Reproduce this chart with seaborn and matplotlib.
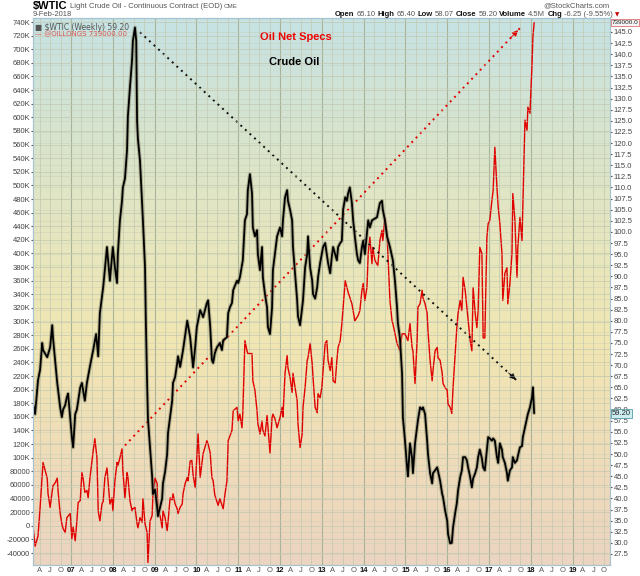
import numpy as np
import pandas as pd
import seaborn as sns
import matplotlib.pyplot as plt
from matplotlib.colors import LinearSegmentedColormap
from matplotlib.transforms import blended_transform_factory

# @OILLONGS - net speculative longs, thousands of contracts (left scale)
longs_t = [2006.09, 2006.14, 2006.21, 2006.26, 2006.33, 2006.43, 2006.45, 2006.50, 2006.55, 2006.57,
           2006.62, 2006.67, 2006.69, 2006.74, 2006.78, 2006.81, 2006.86, 2006.90, 2006.98, 2007.02,
           2007.05, 2007.10, 2007.14, 2007.17, 2007.22, 2007.26, 2007.29, 2007.33, 2007.38, 2007.41,
           2007.45, 2007.53, 2007.57, 2007.62, 2007.65, 2007.69, 2007.74, 2007.77, 2007.81, 2007.86,
           2007.89, 2007.93, 2007.98, 2008.00, 2008.05, 2008.10, 2008.12, 2008.17, 2008.22, 2008.24,
           2008.29, 2008.34, 2008.36, 2008.41, 2008.46, 2008.48, 2008.53, 2008.58, 2008.60, 2008.65,
           2008.70, 2008.72, 2008.77, 2008.82, 2008.84, 2008.89, 2008.94, 2008.96, 2009.01, 2009.06,
           2009.08, 2009.13, 2009.18, 2009.20, 2009.25, 2009.30, 2009.32, 2009.37, 2009.42, 2009.44,
           2009.49, 2009.54, 2009.56, 2009.61, 2009.66, 2009.68, 2009.73, 2009.78, 2009.80, 2009.85,
           2009.89, 2009.92, 2009.97, 2010.01, 2010.04, 2010.09, 2010.16, 2010.25, 2010.28, 2010.33,
           2010.37, 2010.40, 2010.44, 2010.52, 2010.56, 2010.64, 2010.68, 2010.73, 2010.76, 2010.85,
           2010.88, 2010.97, 2011.00, 2011.04, 2011.09, 2011.11, 2011.16, 2011.21, 2011.23, 2011.33,
           2011.35, 2011.40, 2011.45, 2011.47, 2011.52, 2011.57, 2011.59, 2011.64, 2011.69, 2011.76,
           2011.81, 2011.83, 2011.88, 2011.93, 2012.00, 2012.05, 2012.07, 2012.12, 2012.17, 2012.19,
           2012.24, 2012.29, 2012.31, 2012.36, 2012.41, 2012.43, 2012.48, 2012.53, 2012.55, 2012.60,
           2012.65, 2012.67, 2012.72, 2012.77, 2012.79, 2012.84, 2012.89, 2012.91, 2012.96, 2013.00,
           2013.08, 2013.12, 2013.15, 2013.20, 2013.24, 2013.27, 2013.32, 2013.36, 2013.39, 2013.44,
           2013.48, 2013.51, 2013.56, 2013.60, 2013.63, 2013.72, 2013.75, 2013.79, 2013.87, 2013.91,
           2013.96, 2013.99, 2014.03, 2014.08, 2014.11, 2014.15, 2014.20, 2014.22, 2014.27, 2014.34,
           2014.39, 2014.44, 2014.46, 2014.51, 2014.56, 2014.58, 2014.63, 2014.68, 2014.70, 2014.80,
           2014.87, 2014.92, 2014.99, 2015.06, 2015.11, 2015.16, 2015.18, 2015.23, 2015.28, 2015.30,
           2015.35, 2015.40, 2015.42, 2015.47, 2015.52, 2015.54, 2015.59, 2015.64, 2015.66, 2015.71,
           2015.76, 2015.78, 2015.83, 2015.88, 2015.90, 2015.95, 2016.00, 2016.02, 2016.07, 2016.11,
           2016.14, 2016.19, 2016.23, 2016.26, 2016.31, 2016.35, 2016.38, 2016.43, 2016.47, 2016.50,
           2016.55, 2016.59, 2016.62, 2016.67, 2016.71, 2016.74, 2016.78, 2016.83, 2016.86, 2016.90,
           2016.95, 2016.98, 2017.02, 2017.07, 2017.10, 2017.14, 2017.19, 2017.22, 2017.26, 2017.31,
           2017.33, 2017.38, 2017.43, 2017.45, 2017.50, 2017.55, 2017.57, 2017.62, 2017.67, 2017.69,
           2017.74, 2017.79, 2017.81, 2017.86, 2017.91, 2017.93, 2017.98, 2018.03, 2018.05, 2018.08]
longs_k = [0, -30, -15, 27, 93, 70, 47, 27, 51, 59,
           63, 70, 51, 18, 3, -4, -10, 12, 18, -19,
           -2, -22, 7, 34, 37, 78, 69, 49, 52, 41,
           69, 110, 128, 100, 22, 7, 32, 36, 71, 85,
           62, 32, 41, 22, 66, 93, 88, 100, 113, 81,
           41, 78, 72, 37, 22, 25, 27, 3, -3, 12,
           5, 40, 3, -10, -54, 7, 15, 47, 70, 62,
           18, 15, -3, 22, 12, -7, 5, 41, 38, 47,
           32, 25, 18, 27, 32, 47, 62, 71, 66, 95,
           96, 75, 56, 100, 135, 71, 106, 125, 120, 107,
           71, 66, 45, 30, 40, 25, 45, 66, 125, 140,
           169, 174, 154, 164, 144, 166, 272, 257, 253, 253,
           213, 199, 169, 150, 135, 154, 140, 132, 162, 107,
           159, 164, 157, 144, 159, 174, 160, 224, 250, 232,
           218, 196, 224, 203, 184, 150, 115, 135, 174, 203,
           243, 247, 268, 238, 218, 174, 166, 194, 188, 203,
           268, 272, 243, 228, 247, 213, 210, 243, 262, 272,
           297, 321, 360, 350, 343, 326, 316, 301, 309, 316,
           346, 356, 331, 350, 400, 424, 385, 409, 390, 382,
           419, 434, 419, 453, 429, 400, 331, 301, 297, 268,
           257, 282, 282, 272, 297, 262, 257, 209, 272, 321,
           326, 346, 335, 326, 312, 287, 243, 213, 228, 257,
           262, 247, 243, 224, 209, 203, 199, 179, 174, 165,
           203, 253, 291, 312, 331, 316, 365, 346, 321, 301,
           272, 257, 350, 312, 291, 316, 409, 400, 276, 276,
           424, 444, 449, 478, 493, 556, 497, 468, 444, 400,
           331, 371, 379, 326, 356, 400, 488, 449, 365, 409,
           453, 419, 468, 596, 581, 615, 606, 679, 718, 739]

# $WTIC weekly close (right scale)
wtic_t = [2006.09, 2006.14, 2006.19, 2006.21, 2006.26, 2006.31, 2006.33, 2006.43, 2006.50, 2006.55,
          2006.57, 2006.62, 2006.67, 2006.74, 2006.78, 2006.81, 2006.86, 2006.90, 2006.93, 2006.98,
          2007.02, 2007.05, 2007.10, 2007.14, 2007.22, 2007.26, 2007.33, 2007.38, 2007.45, 2007.53,
          2007.60, 2007.65, 2007.69, 2007.77, 2007.86, 2007.93, 2008.00, 2008.05, 2008.10, 2008.12,
          2008.17, 2008.22, 2008.24, 2008.29, 2008.34, 2008.36, 2008.41, 2008.46, 2008.48, 2008.53,
          2008.56, 2008.58, 2008.60, 2008.65, 2008.70, 2008.72, 2008.77, 2008.79, 2008.82, 2008.84,
          2008.89, 2008.94, 2008.96, 2009.01, 2009.06, 2009.08, 2009.13, 2009.18, 2009.20, 2009.25,
          2009.30, 2009.32, 2009.37, 2009.42, 2009.44, 2009.49, 2009.54, 2009.56, 2009.61, 2009.68,
          2009.78, 2009.85, 2009.92, 2009.97, 2010.01, 2010.09, 2010.16, 2010.25, 2010.28, 2010.33,
          2010.37, 2010.40, 2010.44, 2010.49, 2010.56, 2010.61, 2010.64, 2010.73, 2010.76, 2010.80,
          2010.85, 2010.88, 2010.97, 2011.00, 2011.04, 2011.11, 2011.16, 2011.21, 2011.23, 2011.28,
          2011.33, 2011.35, 2011.40, 2011.45, 2011.47, 2011.52, 2011.57, 2011.59, 2011.64, 2011.69,
          2011.71, 2011.76, 2011.81, 2011.83, 2011.93, 2012.00, 2012.05, 2012.07, 2012.12, 2012.17,
          2012.19, 2012.24, 2012.29, 2012.31, 2012.36, 2012.41, 2012.43, 2012.48, 2012.55, 2012.60,
          2012.65, 2012.67, 2012.72, 2012.77, 2012.79, 2012.84, 2012.89, 2012.91, 2012.96, 2013.00,
          2013.03, 2013.08, 2013.12, 2013.15, 2013.20, 2013.24, 2013.27, 2013.36, 2013.39, 2013.44,
          2013.48, 2013.51, 2013.56, 2013.60, 2013.63, 2013.67, 2013.72, 2013.75, 2013.79, 2013.84,
          2013.87, 2013.91, 2013.96, 2013.99, 2014.03, 2014.08, 2014.11, 2014.15, 2014.20, 2014.32,
          2014.39, 2014.44, 2014.46, 2014.51, 2014.56, 2014.63, 2014.70, 2014.75, 2014.80, 2014.82,
          2014.87, 2014.92, 2014.94, 2014.99, 2015.04, 2015.06, 2015.11, 2015.16, 2015.18, 2015.23,
          2015.28, 2015.30, 2015.35, 2015.40, 2015.42, 2015.47, 2015.52, 2015.54, 2015.59, 2015.64,
          2015.66, 2015.71, 2015.76, 2015.83, 2015.88, 2015.90, 2015.95, 2016.00, 2016.02, 2016.07,
          2016.11, 2016.14, 2016.19, 2016.23, 2016.26, 2016.31, 2016.35, 2016.38, 2016.43, 2016.47,
          2016.50, 2016.55, 2016.59, 2016.62, 2016.67, 2016.71, 2016.74, 2016.78, 2016.83, 2016.86,
          2016.90, 2016.95, 2016.98, 2017.02, 2017.07, 2017.10, 2017.14, 2017.19, 2017.22, 2017.26,
          2017.31, 2017.33, 2017.38, 2017.43, 2017.45, 2017.50, 2017.55, 2017.57, 2017.62, 2017.67,
          2017.69, 2017.74, 2017.79, 2017.81, 2017.86, 2017.91, 2017.93, 2017.98, 2018.03, 2018.05,
          2018.08]
wtic_close = [61.4, 59.0, 64.4, 66.6, 69.0, 75.0, 73.4, 71.8, 74.0, 79.0,
              76.0, 71.0, 66.0, 60.5, 58.3, 60.0, 61.0, 62.8, 63.6, 58.3,
              53.8, 51.5, 59.0, 60.0, 65.0, 66.0, 62.0, 66.0, 69.6, 73.4,
              77.0, 72.0, 81.7, 87.6, 96.6, 89.0, 96.6, 92.0, 88.5, 95.0,
              102.6, 107.0, 110.0, 112.0, 118.4, 126.0, 132.6, 138.7, 143.0, 146.0,
              143.0, 125.0, 121.0, 116.0, 106.5, 102.6, 92.0, 80.0, 66.0, 58.0,
              51.5, 45.0, 41.0, 42.0, 38.0, 36.0, 38.0, 40.0, 43.4, 46.0,
              50.0, 54.7, 58.3, 62.0, 66.0, 67.3, 70.5, 72.0, 69.6, 73.4,
              80.0, 76.3, 69.5, 74.0, 78.6, 82.4, 80.8, 84.0, 84.6, 78.6,
              71.2, 70.5, 72.7, 74.0, 75.0, 73.4, 75.6, 76.3, 81.7, 83.0,
              84.0, 86.9, 89.0, 88.5, 89.8, 93.6, 102.6, 104.0, 109.4, 113.0,
              108.7, 101.0, 99.0, 100.4, 95.0, 91.4, 96.6, 89.8, 86.0, 83.0,
              78.6, 77.0, 83.0, 91.4, 99.0, 101.0, 99.0, 102.6, 107.8, 109.4,
              107.0, 105.0, 102.6, 96.6, 90.7, 84.6, 81.0, 79.0, 84.6, 92.0,
              95.0, 99.0, 92.0, 89.0, 86.0, 85.0, 87.6, 89.8, 93.0, 95.0,
              96.6, 97.5, 95.0, 93.0, 90.7, 94.5, 96.6, 93.6, 96.6, 97.5,
              98.0, 105.0, 107.8, 107.0, 108.7, 110.0, 106.5, 102.6, 99.0, 95.0,
              93.6, 93.0, 96.6, 98.0, 95.0, 99.7, 102.6, 101.0, 102.6, 103.3,
              106.5, 107.0, 105.0, 102.6, 99.0, 96.6, 93.6, 89.0, 83.0, 79.5,
              76.0, 68.0, 58.3, 53.0, 47.0, 45.0, 52.4, 49.0, 45.7, 52.4,
              56.0, 57.6, 60.5, 60.0, 60.5, 59.0, 53.0, 50.0, 45.7, 43.4,
              45.7, 46.3, 47.0, 44.0, 41.0, 40.3, 37.3, 35.0, 32.0, 29.9,
              30.0, 33.5, 36.7, 38.9, 41.8, 44.8, 46.3, 49.3, 49.3, 48.6,
              47.0, 44.8, 42.5, 44.5, 45.7, 47.0, 49.3, 51.0, 49.0, 47.0,
              46.3, 51.0, 53.8, 53.5, 53.0, 53.5, 53.0, 49.3, 48.0, 52.4,
              51.0, 49.3, 48.0, 45.7, 44.0, 46.3, 47.0, 49.3, 48.0, 48.6,
              49.5, 51.5, 51.8, 53.8, 56.0, 58.3, 59.0, 60.5, 62.8, 65.0,
              59.2]

# axis ticks
years = list(range(2007, 2020))
quarters = [y + q for y in range(2006, 2020) for q in (0.25, 0.5, 0.75)]
quarter_names = ["A", "J", "O"]
left_ticks = list(range(-40000, 740001, 20000))
right_ticks = list(np.arange(27.5, 145.01, 2.5))

# trend arrows drawn by hand on the original (year, net longs)
specs_arrow = [(2008.29, 118000), (2017.74, 731000)]
price_arrow = [(2008.65, 725000), (2017.69, 212000)]

W, H = 640, 576
sns.set_style("white")
plt.rcParams['font.family'] = ['Liberation Sans', 'DejaVu Sans']

fig = plt.figure(figsize=(W / 100, H / 100), dpi=100)
ax = fig.add_axes([33 / W, 11 / H, 577 / W, 547 / H])
ax2 = ax.twinx()

# background gradient (peach bottom -> yellow -> pale cyan top)
bg = LinearSegmentedColormap.from_list(
    'bg', ['#ebd4c1', '#efdcb9', '#f1e6b2', '#e6e6bf', '#d6e4cf', '#c6e2e4'])
grad = np.linspace(0, 1, 256).reshape(-1, 1)
ax.imshow(grad, extent=[0, 1, 0, 1], transform=ax.transAxes, cmap=bg,
          aspect='auto', origin='lower', zorder=0)

df_longs = pd.DataFrame({'t': longs_t, 'longs': np.array(longs_k) * 1000})
df_wtic = pd.DataFrame({'t': wtic_t, 'close': wtic_close})

sns.lineplot(data=df_longs, x='t', y='longs', ax=ax, color='#e00000', linewidth=1.0,
             estimator=None, sort=False, legend=False, zorder=3)
sns.lineplot(data=df_wtic, x='t', y='close', ax=ax2, color='#8d8d6c', linewidth=2.8,
             alpha=0.6, estimator=None, sort=False, legend=False)
sns.lineplot(data=df_wtic, x='t', y='close', ax=ax2, color='black', linewidth=1.3,
             estimator=None, sort=False, legend=False)

ax.set_xlim(2006.09, 2019.895)
ax.set_ylim(-57600, 745900)
ax2.set_ylim(25.02, 148.15)

# ticks and gridlines
ax.set_xticks(years)
ax.set_xticklabels([f"{y % 100:02d}" for y in years])
ax.set_xticks([q for q in quarters if q < 2019.9], minor=True)
ax.set_xticklabels([quarter_names[i % 3] for i, q in enumerate(quarters) if q < 2019.9], minor=True)
ax.set_yticks(left_ticks)
ax.set_yticklabels([f"{v // 1000}K" if v >= 100000 else f"{v}" for v in left_ticks])
ax2.set_yticks(right_ticks)
ax2.set_yticklabels([f"{v:.1f}" for v in right_ticks])

ax.grid(True, which='major', axis='x', color='#a9b39a', linewidth=0.8, zorder=1)
ax.grid(True, which='minor', axis='x', color='#c2c8b0', linewidth=0.5, zorder=1)
ax.grid(True, which='major', axis='y', color='#c2c8b0', linewidth=0.5, zorder=1)
ax2.grid(True, axis='y', color='#c6cbb3', linewidth=0.4, alpha=0.7)
ax2.set_axisbelow(True)

ax.tick_params(axis='x', which='both', length=0, pad=1.2, labelsize=5.5)
ax.tick_params(axis='y', length=1.5, pad=0.5, labelsize=5.5, colors='#555555', labelcolor='#444444')
ax2.tick_params(axis='y', length=1.5, pad=1, labelsize=5.5, colors='#555555', labelcolor='#444444')
for lab in ax.get_xticklabels():
    lab.set_fontweight('bold')
    lab.set_color('#111111')
for lab in ax.get_xticklabels(minor=True):
    lab.set_color('#555555')

for a in (ax, ax2):
    a.set_xlabel('')
    a.set_ylabel('')
    for s in a.spines.values():
        s.set_color('#a7c3cf')
        s.set_linewidth(0.8)
ax2.spines['right'].set_linestyle((0, (1, 1)))

# dotted trend arrows
for pts, col in ((specs_arrow, '#e00000'), (price_arrow, '#111111')):
    (x0, y0), (x1, y1) = pts
    ax.plot([x0, x1], [y0, y1], color=col, linestyle=(0, (1, 2.2)), linewidth=1.4, zorder=4)
    ax.annotate('', xy=(x1, y1), xytext=(x0 + 0.97 * (x1 - x0), y0 + 0.97 * (y1 - y0)),
                arrowprops=dict(arrowstyle='-|>', color=col, lw=0.6, mutation_scale=9),
                zorder=4)

# annotations
ax.text(0.455, 0.965, 'Oil Net Specs', transform=ax.transAxes, color='#ee0000',
        fontsize=8, fontweight='bold', ha='center', va='center')
ax.text(0.453, 0.919, 'Crude Oil', transform=ax.transAxes, color='black',
        fontsize=8, fontweight='bold', ha='center', va='center')

# in-chart legend
ax.text(0.004, 0.991, '■ \\$WTIC (Weekly) 59.20', transform=ax.transAxes, color='#555555',
        fontsize=5.5, ha='left', va='top', family=['DejaVu Sans'])
ax.text(0.004, 0.976, '— @OILLONGS 739000.00', transform=ax.transAxes, color='#e05050',
        fontsize=5, ha='left', va='top', family=['DejaVu Sans'])

# current-value boxes on the right edge
tr_left = blended_transform_factory(ax.transAxes, ax.transData)
ax.text(1.003, 739000, '739000.0', transform=tr_left, fontsize=4.6, color='#222222',
        ha='left', va='center', clip_on=False,
        bbox=dict(boxstyle='square,pad=0.12', fc='#f4f4f4', ec='#e07070', lw=0.6))
tr_right = blended_transform_factory(ax2.transAxes, ax2.transData)
ax2.text(1.003, 59.2, '59.20', transform=tr_right, fontsize=5.5, color='#222222',
         ha='left', va='center', clip_on=False,
         bbox=dict(boxstyle='square,pad=0.15', fc='#cdeef0', ec='#5a9aa8', lw=0.6))

# header
renderer = fig.canvas.get_renderer()


def text_run(pieces, x, y):
    for s, kw in pieces:
        t = fig.text(x / W, 1 - y / H, s, va='center', ha='left', **kw)
        x += t.get_window_extent(renderer=renderer).width + 2


text_run([('\\$WTIC', dict(fontsize=8, fontweight='bold', color='black')),
          ('Light Crude Oil - Continuous Contract (EOD)', dict(fontsize=5.5, color='#555555')),
          ('CME', dict(fontsize=4.5, color='#555555'))], 33, 6)
fig.text(33 / W, 1 - 15 / H, '9-Feb-2018', fontsize=5.5, color='#555555', va='center')
fig.text(610 / W, 1 - 6 / H, '@StockCharts.com', fontsize=5.5, color='#555555',
         va='center', ha='right')
bold = dict(fontsize=5.5, fontweight='bold', color='#111111')
norm = dict(fontsize=5.5, color='#555555')
text_run([('Open', bold), ('65.10', norm), ('High', bold), ('65.40', norm),
          ('Low', bold), ('58.07', norm), ('Close', bold), ('59.20', norm),
          ('Volume', bold), ('4.5M', norm), ('Chg', bold), ('-6.25 (-9.55%)', norm),
          ('▼', dict(fontsize=4, color='#cc0000', family=['DejaVu Sans']))], 335, 15)

fig.savefig('out.png', dpi=100)
